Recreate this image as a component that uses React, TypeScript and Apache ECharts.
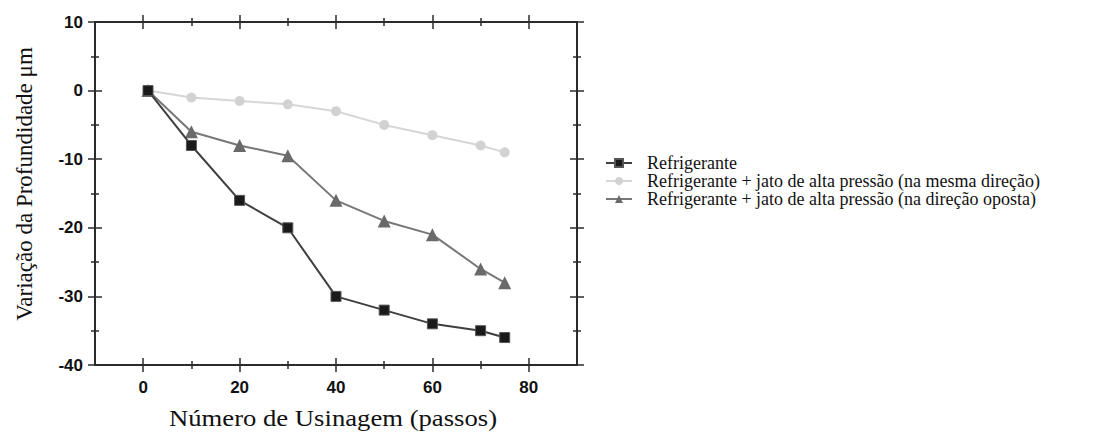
import React, { useEffect, useRef } from "react";
import * as echarts from "echarts";

const passos = [1, 10, 20, 30, 40, 50, 60, 70, 75];
const refrigerante = [0, -8, -16, -20, -30, -32, -34, -35, -36];
const mesmaDirecao = [0, -1, -1.5, -2, -3, -5, -6.5, -8, -9];
const direcaoOposta = [0, -6, -8, -9.5, -16, -19, -21, -26, -28];

const seriesNames = [
  "Refrigerante",
  "Refrigerante + jato de alta pressão (na mesma direção)",
  "Refrigerante + jato de alta pressão (na direção oposta)",
];
const xLabelValues = [0, 20, 40, 60, 80];
const xMinorTicks = [10, 30, 50, 70];
const yLabelValues = [-40, -30, -20, -10, 0, 10];
const yMinorTicks = [-35, -25, -15, -5, 5];
const xTitle = "Número de Usinagem (passos)";
const yTitle = "Variação da Profundidade μm";

const AXIS_COLOR = "#2b2b2b";
const SERIF = "'Liberation Serif', 'Times New Roman', Times, serif";
const SANS = "'Liberation Sans', Arial, Helvetica, sans-serif";

function pairs(xs: number[], ys: number[]) {
  return xs.map((x, i) => [x, ys[i]]);
}

function makeAxis(
  dim: "x" | "y",
  position: string,
  ticks: number[],
  len: number,
  inside: boolean,
  labels: number[] | null
) {
  const base: any = {
    type: "value",
    position,
    min: dim === "x" ? -10 : -40,
    max: dim === "x" ? 90 : 10,
    axisLine: { show: true, onZero: false, lineStyle: { color: AXIS_COLOR, width: 2 } },
    axisTick: {
      show: true,
      customValues: ticks,
      length: len,
      inside,
      lineStyle: { color: AXIS_COLOR, width: 1.5 },
    },
    splitLine: { show: false },
    axisLabel: labels
      ? {
          show: true,
          customValues: labels,
          color: "#111",
          fontFamily: SANS,
          fontWeight: "bold",
          fontSize: 17,
          margin: dim === "x" ? 14 : 12,
        }
      : { show: false },
  };
  return base;
}

export default function App() {
  const ref = useRef<HTMLDivElement>(null);
  useEffect(() => {
    if (!ref.current) return;
    const chart = echarts.init(ref.current, null, { renderer: "svg" });
    const xAxes: any[] = [];
    const yAxes: any[] = [];
    for (const pos of ["bottom", "top"]) {
      xAxes.push(makeAxis("x", pos, xLabelValues, 7, false, pos === "bottom" ? xLabelValues : null));
      xAxes.push(makeAxis("x", pos, xLabelValues, 7, true, null));
      xAxes.push(makeAxis("x", pos, xMinorTicks, 4, false, null));
      xAxes.push(makeAxis("x", pos, xMinorTicks, 4, true, null));
    }
    for (const pos of ["left", "right"]) {
      yAxes.push(makeAxis("y", pos, yLabelValues, 7, false, pos === "left" ? yLabelValues : null));
      yAxes.push(makeAxis("y", pos, yLabelValues, 7, true, null));
      yAxes.push(makeAxis("y", pos, yMinorTicks, 4, false, null));
      yAxes.push(makeAxis("y", pos, yMinorTicks, 4, true, null));
    }
    chart.setOption({
      animation: false,
      backgroundColor: "#ffffff",
      grid: { left: 95, top: 22, width: 482, height: 343, containLabel: false },
      xAxis: xAxes,
      yAxis: yAxes,
      legend: {
        orient: "vertical",
        left: 600,
        top: 149,
        itemWidth: 26,
        itemHeight: 10,
        itemGap: 0,
        textStyle: {
          fontFamily: SERIF,
          fontSize: 18,
          color: "#111",
          padding: [0, 0, 0, 10],
        },
        data: seriesNames,
      },
      graphic: [
        {
          type: "text",
          x: 333,
          y: 418,
          scaleX: 1.16,
          style: {
            text: xTitle,
            font: "23px " + SERIF,
            fill: "#111",
            align: "center",
            verticalAlign: "middle",
          },
        },
        {
          type: "text",
          x: 24,
          y: 184,
          rotation: Math.PI / 2,
          style: {
            text: yTitle,
            font: "23px " + SERIF,
            fill: "#111",
            align: "center",
            verticalAlign: "middle",
          },
        },
      ],
      series: [
        {
          name: seriesNames[0],
          type: "line",
          xAxisIndex: 0,
          yAxisIndex: 0,
          data: pairs(passos, refrigerante),
          symbol: "rect",
          symbolSize: 10,
          lineStyle: { color: "#3f3f3f", width: 2 },
          itemStyle: { color: "#1a1a1a", borderColor: "#555", borderWidth: 1 },
          z: 4,
        },
        {
          name: seriesNames[1],
          type: "line",
          xAxisIndex: 0,
          yAxisIndex: 0,
          data: pairs(passos, mesmaDirecao),
          symbol: "circle",
          symbolSize: 10,
          lineStyle: { color: "#d6d6d6", width: 2 },
          itemStyle: { color: "#d2d2d2" },
          z: 2,
        },
        {
          name: seriesNames[2],
          type: "line",
          xAxisIndex: 0,
          yAxisIndex: 0,
          data: pairs(passos, direcaoOposta),
          symbol: "triangle",
          symbolSize: 13,
          lineStyle: { color: "#777", width: 2 },
          itemStyle: { color: "#6a6a6a" },
          z: 3,
        },
      ],
    });
    return () => chart.dispose();
  }, []);
  return (
    <div
      ref={ref}
      style={{ position: "absolute", left: 0, top: 0, width: 1105, height: 434, background: "#fff" }}
    />
  );
}
